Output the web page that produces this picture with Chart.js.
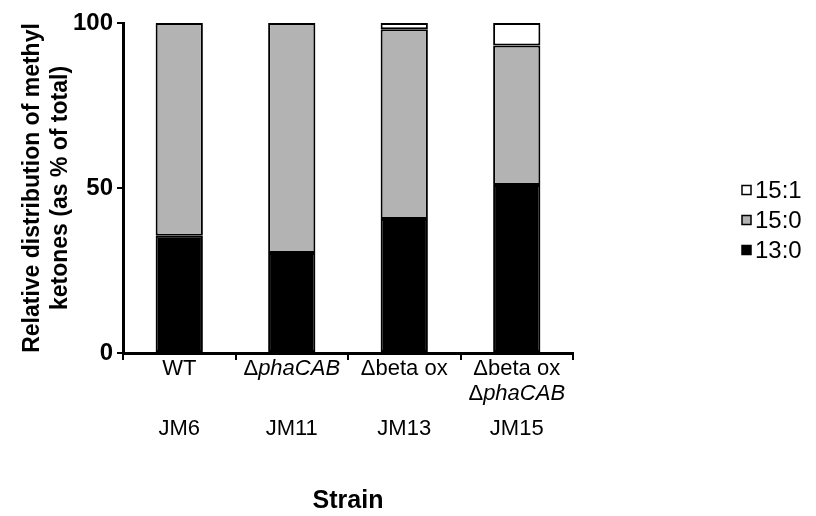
<!DOCTYPE html>
<html>
<head>
<meta charset="utf-8">
<script src="https://cdn.jsdelivr.net/npm/chart.js@4"></script>
<style>
  html, body { margin: 0; padding: 0; background: #fff; }
  #wrap { width: 816px; height: 516px; }
</style>
</head>
<body>
<div id="wrap"><canvas id="myChart" width="816" height="516"></canvas></div>
<script>
// Data (percent of total methyl ketones)
const strains = ['JM6', 'JM11', 'JM13', 'JM15'];
const genotypes = [['WT'], ['Δ|phaCAB'], ['Δbeta ox'], ['Δbeta ox', 'Δ|phaCAB']];
const mk130 = [35.5, 30.3, 40.6, 50.9];
const mk150 = [64.5, 69.7, 57.5, 42.3];
const mk151 = [0, 0, 1.9, 6.8];
const yTicks = [0, 50, 100];

const FONT = "'Liberation Sans', Arial, sans-serif";

// Draws the two-row category labels (genotype + strain) and the legend
const labelPlugin = {
    id: 'labelPlugin',
    afterDraw(chart) {
        const ctx = chart.ctx;
        const xs = chart.scales.x;
        ctx.save();
        ctx.fillStyle = '#000';
        ctx.textBaseline = 'middle';
        strains.forEach(function(s, i) {
            const cx = xs.getPixelForValue(i);
            genotypes[i].forEach(function(line, j) {
                const y = 369 + j * 25;
                const parts = line.split('|');
                ctx.font = '22px ' + FONT;
                const w0 = ctx.measureText(parts[0]).width;
                let w1 = 0;
                if (parts[1]) {
                    ctx.font = 'italic 22px ' + FONT;
                    w1 = ctx.measureText(parts[1]).width;
                }
                let x = cx - (w0 + w1) / 2;
                ctx.textAlign = 'left';
                ctx.font = '22px ' + FONT;
                ctx.fillText(parts[0], x, y);
                if (parts[1]) {
                    ctx.font = 'italic 22px ' + FONT;
                    ctx.fillText(parts[1], x + w0, y);
                }
            });
            ctx.font = '22px ' + FONT;
            ctx.textAlign = 'center';
            ctx.fillText(s, cx, 429);
        });

        // legend, top item is the last dataset
        const items = chart.data.datasets.slice().reverse();
        items.forEach(function(ds, k) {
            const y = 190 + k * 30;
            ctx.fillStyle = ds.backgroundColor;
            ctx.fillRect(742, y - 4.5, 9, 9);
            ctx.strokeStyle = '#000';
            ctx.lineWidth = 1.5;
            ctx.strokeRect(742, y - 4.5, 9, 9);
            ctx.fillStyle = '#000';
            ctx.font = '24px ' + FONT;
            ctx.textAlign = 'left';
            ctx.fillText(ds.label, 755, y + 1);
        });
        ctx.restore();
    }
};

const ctx = document.getElementById('myChart').getContext('2d');
const myChart = new Chart(ctx, {
    type: 'bar',
    data: {
        labels: strains,
        datasets: [
            { label: '13:0', data: mk130, backgroundColor: '#000000' },
            { label: '15:0', data: mk150, backgroundColor: '#b3b3b3' },
            { label: '15:1', data: mk151, backgroundColor: '#ffffff' }
        ]
    },
    options: {
        responsive: false,
        animation: false,
        datasets: {
            bar: {
                borderColor: '#000',
                borderWidth: 2,
                borderSkipped: false,
                barPercentage: 0.42,
                categoryPercentage: 1
            }
        },
        layout: { padding: { left: 0, right: 243, top: 23, bottom: 0 } },
        plugins: {
            legend: { display: false },
            tooltip: { enabled: false }
        },
        scales: {
            x: {
                stacked: true,
                afterFit: function(scale) { scale.height = 163; },
                grid: {
                    offset: true,
                    drawOnChartArea: false,
                    drawTicks: true,
                    tickLength: 7,
                    color: '#000',
                    lineWidth: 2
                },
                border: { color: '#000', width: 3 },
                ticks: { display: false },
                title: {
                    display: true,
                    text: 'Strain',
                    color: '#000',
                    font: { family: FONT, size: 25, weight: 'bold' },
                    padding: { top: 6, bottom: 0 }
                }
            },
            y: {
                stacked: true,
                min: 0,
                max: 100,
                afterFit: function(scale) { scale.width = 123; },
                afterBuildTicks: function(scale) {
                    scale.ticks = yTicks.map(function(v) { return { value: v }; });
                },
                grid: {
                    drawOnChartArea: false,
                    drawTicks: true,
                    tickLength: 6,
                    color: '#000',
                    lineWidth: 2
                },
                border: { color: '#000', width: 3 },
                ticks: {
                    color: '#000',
                    padding: 4,
                    font: { family: FONT, size: 24, weight: 'bold' }
                },
                title: {
                    display: true,
                    text: ['Relative distribution of methyl', 'ketones (as % of total)'],
                    color: '#000',
                    font: { family: FONT, size: 23, weight: 'bold' },
                    padding: { top: 19, bottom: 0 }
                }
            }
        }
    },
    plugins: [labelPlugin]
});
</script>
</body>
</html>
